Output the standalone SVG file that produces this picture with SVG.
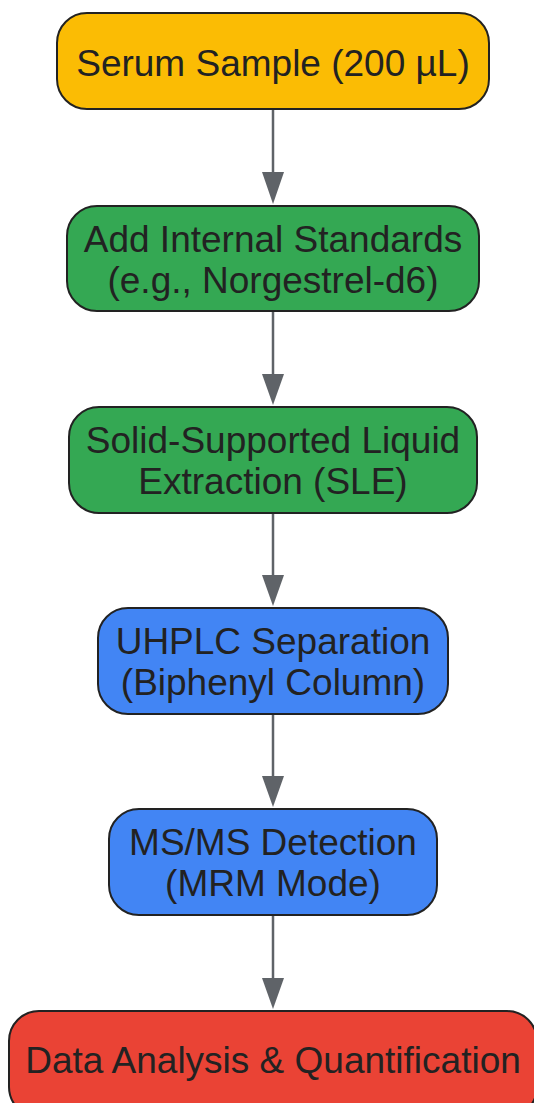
<svg xmlns="http://www.w3.org/2000/svg" width="534" height="1103" viewBox="0 0 534 1103">
<style>
.n{stroke:#222;stroke-width:2}
.t{font-family:"Liberation Sans",Arial,sans-serif;font-size:37px;fill:#222;text-anchor:middle}
.e{stroke:#5f6368;stroke-width:2.5;fill:none}
.h{fill:#5f6368}
</style>
<g id="edges">
<line class="e" x1="273" y1="110" x2="273" y2="176"/>
<path class="h" d="M262,172L284,172L273,204z"/>
<line class="e" x1="273" y1="312" x2="273" y2="378"/>
<path class="h" d="M262,374L284,374L273,405z"/>
<line class="e" x1="273" y1="514" x2="273" y2="579"/>
<path class="h" d="M262,575L284,575L273,606z"/>
<line class="e" x1="273" y1="715" x2="273" y2="780"/>
<path class="h" d="M262,776L284,776L273,807z"/>
<line class="e" x1="273" y1="916" x2="273" y2="982"/>
<path class="h" d="M262,978L284,978L273,1009z"/>
</g>
<g id="n1"><rect class="n" x="57" y="13" width="432" height="96" rx="30" fill="#FBBC04"/><text class="t" x="273" y="76">Serum Sample (200 µL)</text></g>
<g id="n2"><rect class="n" x="67" y="206" width="412" height="105" rx="30" fill="#34A853"/><text class="t" x="273" y="252">Add Internal Standards</text><text class="t" x="273" y="293">(e.g., Norgestrel-d6)</text></g>
<g id="n3"><rect class="n" x="69" y="407" width="408" height="106" rx="30" fill="#34A853"/><text class="t" x="273" y="453">Solid-Supported Liquid</text><text class="t" x="273" y="494">Extraction (SLE)</text></g>
<g id="n4"><rect class="n" x="98" y="608" width="350" height="106" rx="30" fill="#4285F4"/><text class="t" x="273" y="654">UHPLC Separation</text><text class="t" x="273" y="695">(Biphenyl Column)</text></g>
<g id="n5"><rect class="n" x="109" y="809" width="328" height="106" rx="30" fill="#4285F4"/><text class="t" x="273" y="855">MS/MS Detection</text><text class="t" x="273" y="896">(MRM Mode)</text></g>
<g id="n6"><rect class="n" x="9" y="1011" width="528" height="106" rx="30" fill="#EA4335"/><text class="t" x="273" y="1073">Data Analysis &amp; Quantification</text></g>
</svg>
